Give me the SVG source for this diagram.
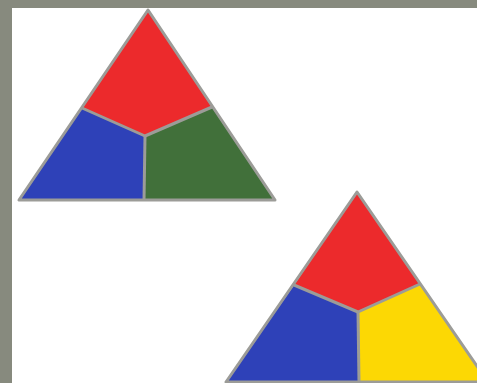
<svg xmlns="http://www.w3.org/2000/svg" width="477" height="383" viewBox="0 0 477 383">
<style>
.r{fill:#ec2a2c}.b{fill:#2e41b8}.g{fill:#41703a}.y{fill:#fcd804}
.e{stroke:#9c9c98;stroke-width:3;stroke-linejoin:round;fill:none}
</style>
<rect width="477" height="383" fill="#878a7e"/>
<rect x="12" y="8" width="465" height="375" fill="#ffffff"/>
<g id="triangle1">
<polygon class="r" points="148,10 82,108 145,136 212,107"/>
<polygon class="b" points="82,108 19,200 144,200 145,136"/>
<polygon class="g" points="212,107 145,136 144,200 275,200"/>
<polygon class="e" points="148,10 19,200 275,200"/>
<polyline class="e" points="82,108 145,136 212,107"/>
<line class="e" x1="145" y1="136" x2="144" y2="200"/>
</g>
<g id="triangle2">
<polygon class="r" points="357,192 294,285 358,312 420,284"/>
<polygon class="b" points="294,285 226,382 359,382 358,312"/>
<polygon class="y" points="420,284 358,312 359,382 488,382"/>
<polygon class="e" points="357,192 226,382 488,382"/>
<polyline class="e" points="294,285 358,312 420,284"/>
<line class="e" x1="358" y1="312" x2="359" y2="382"/>
</g>
</svg>
